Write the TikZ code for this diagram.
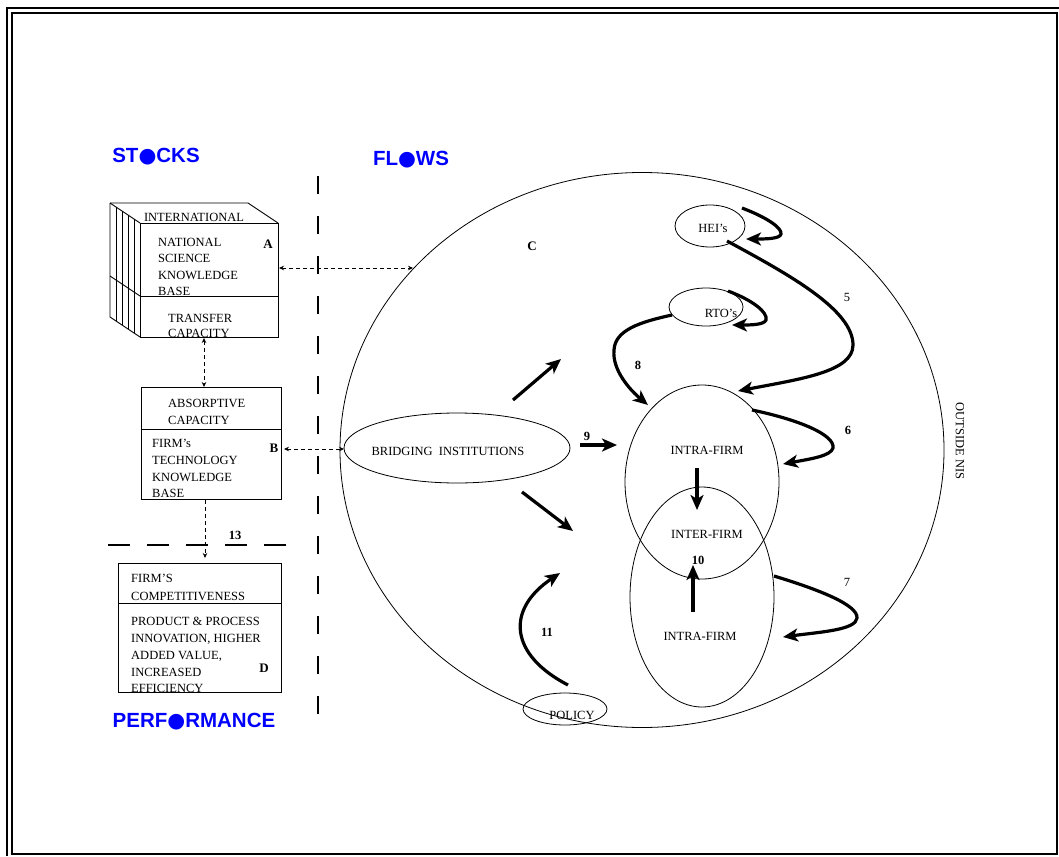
\documentclass[tikz,border=0pt]{standalone}
\usepackage{fontspec}
\setmainfont{Liberation Serif}
\newfontfamily\titlefont{Liberation Sans}
\newfontfamily\symfont{DejaVu Sans}
\usetikzlibrary{arrows.meta,shapes.geometric}
\tikzset{
  txt/.style={inner sep=0pt, text height=8.5pt, text depth=0pt, anchor=west, font=\fontsize{12.5}{15}\selectfont},
  ctxt/.style={txt, anchor=center},
  lbl/.style={ctxt, font=\fontsize{13}{15}\selectfont\bfseries},
  num/.style={ctxt, font=\fontsize{12.5}{15}\selectfont\bfseries},
  numn/.style={ctxt, font=\fontsize{12.5}{15}\selectfont},
  title/.style={inner sep=0pt, text=blue, font=\fontsize{20.5}{22}\titlefont\bfseries},
  oval/.style={draw, ellipse, inner sep=0pt, line width=0.8pt},
  boxline/.style={line width=0.9pt},
  thickarrow/.style={line width=3.2pt, -{Stealth[length=15pt,width=13pt,inset=4pt]}},
  dasharrow/.style={line width=0.8pt, dash pattern=on 4pt off 3pt, {Stealth[length=5pt,width=4.5pt]}-{Stealth[length=5pt,width=4.5pt]}},
  dasharrowone/.style={line width=0.8pt, dash pattern=on 4pt off 3pt, -{Stealth[length=5pt,width=4.5pt]}},
}
\begin{document}
\begin{tikzpicture}[x=1pt,y=-1pt]
\useasboundingbox (0,0) rectangle (1059,856);
% frame
\draw[line width=2pt] (12,13) rectangle (1057,854);
\draw[line width=2pt] (7,856) -- (7,8) -- (1059,8);

% titles
\node[title] (stocks) at (156,157) {ST{\symfont ●}CKS};
\node[title] (flows) at (411,160) {FL{\symfont ●}WS};
\node[title] (perf) at (194,722) {PERF{\symfont ●}RMANCE};

% dashed separators
\draw[line width=1.3pt, dash pattern=on 18pt off 22pt] (318,176) -- (318,722);
\draw[line width=1.3pt, dash pattern=on 22pt off 17pt] (108,545) -- (296,545);

% box A (3D)
\draw[boxline] (140,223) rectangle (278,337);
\draw[boxline] (140,296) -- (278,296);
\draw[boxline] (110,203) -- (248,203) -- (278,223);
\draw[boxline] (110,203) -- (140,223);
\draw[boxline] (110,203) -- (110,317) -- (140,337);
\draw[boxline] (110,276) -- (140,296);
\foreach \xx in {116,122,128,134} {
  \draw[line width=0.7pt] (\xx,{203+(\xx-110)*2/3}) -- (\xx,{317+(\xx-110)*2/3});
}
\node[ctxt] (intl) at (194,217) {INTERNATIONAL};
\node[txt] (a1) at (158,242) {NATIONAL};
\node[txt] (a2) at (158,258) {SCIENCE};
\node[txt] (a3) at (158,275) {KNOWLEDGE};
\node[txt] (a4) at (158,291) {BASE};
\node[lbl] (A) at (268,244) {A};
\node[txt] (a5) at (168,318) {TRANSFER};
\node[txt] (a6) at (168,333) {CAPACITY};
\coordinate (Aright) at (279,268);
\coordinate (Abottom) at (204,338);

% box B
\draw[boxline] (141,387) rectangle (281,499);
\draw[boxline] (141,429) -- (281,429);
\node[txt] (b1) at (168,403) {ABSORPTIVE};
\node[txt] (b2) at (168,420) {CAPACITY};
\node[txt] (b3) at (152,443) {FIRM's};
\node[txt] (b4) at (152,460) {TECHNOLOGY};
\node[txt] (b5) at (152,477) {KNOWLEDGE};
\node[txt] (b6) at (152,493) {BASE};
\node[lbl] (B) at (274,448) {B};
\coordinate (Btop) at (204,387);
\coordinate (Bright) at (284,449);
\coordinate (Bbottom) at (205,500);

% box D
\draw[boxline] (118,563) rectangle (281,692);
\draw[boxline] (118,603) -- (281,603);
\node[txt] (d1) at (131,578) {FIRM'S};
\node[txt] (d2) at (131,596) {COMPETITIVENESS};
\node[txt] (d3) at (131,621) {PRODUCT \& PROCESS};
\node[txt] (d4) at (131,638) {INNOVATION, HIGHER};
\node[txt] (d5) at (131,655) {ADDED VALUE,};
\node[txt] (d6) at (131,672) {INCREASED};
\node[txt] (d7) at (131,688) {EFFICIENCY};
\node[lbl] (D) at (264,668) {D};
\coordinate (Dtop) at (205,558);
\node[num] (n13) at (235,535) {13};

% big circle C
\node[oval, minimum width=604pt, minimum height=555pt] (C) at (642,450) {};
\node[lbl] (Clbl) at (532,246) {C};
\coordinate (Cleft) at (413,268);

% ovals inside
\node[oval, minimum width=70pt, minimum height=42pt] (hei) at (710,226) {};
\node[ctxt] at (713,228) {HEI's};
\node[oval, minimum width=74pt, minimum height=38pt] (rto) at (706,307) {};
\node[ctxt] at (721,313) {RTO's};
\node[oval, minimum width=154pt, minimum height=194pt] (intra1) at (702,482) {};
\node[oval, minimum width=144pt, minimum height=220pt] (intra2) at (702,597) {};
\node[ctxt] at (707,450) {INTRA-FIRM};
\node[ctxt] at (707,534) {INTER-FIRM};
\node[ctxt] at (700,636) {INTRA-FIRM};
\node[num] (n10) at (698,560) {10};
\node[oval, minimum width=226pt, minimum height=70pt] (bridge) at (457,448) {};
\node[ctxt] at (448,451) {BRIDGING\ \ INSTITUTIONS};
\node[oval, minimum width=84pt, minimum height=32pt] (policy) at (565,709) {};
\node[ctxt] at (572,715) {POLICY};
\coordinate (bridgeleft) at (344,449);

\node[ctxt, rotate=-90] (outside) at (960,441) {OUTSIDE NIS};

% dashed arrows
\draw[dasharrow] (Aright) -- (Cleft);
\draw[dasharrow] (Abottom) -- (Btop);
\draw[dasharrow] (Bright) -- (bridgeleft);
\draw[dasharrowone] (Bbottom) -- (Dtop);

% thick arrows
\draw[thickarrow] (742,208) .. controls (768,218) and (782,228) .. (781,234) .. controls (780,239) and (765,239) .. (746,239);
\draw[thickarrow] (728,291) .. controls (752,300) and (768,312) .. (766,320) .. controls (764,325) and (750,325) .. (732,325);
\draw[thickarrow] (727,241) .. controls (790,275) and (853,310) .. (853,345) .. controls (853,372) and (800,379) .. (738,391);
\node[numn] (n5) at (847,297) {5};
\draw[thickarrow] (672,315) .. controls (640,322) and (615,330) .. (614,350) .. controls (612,370) and (630,390) .. (648,405);
\node[num] (n8) at (638,365) {8};
\draw[thickarrow] (752,410) .. controls (800,420) and (835,435) .. (833,448) .. controls (831,456) and (810,459) .. (783,464);
\node[num] (n6) at (848,430) {6};
\draw[thickarrow] (774,576) .. controls (820,590) and (858,605) .. (857,618) .. controls (856,630) and (820,632) .. (783,637);
\node[numn] (n7) at (847,582) {7};
\draw[thickarrow] (697,468) -- (697,510);
\draw[thickarrow] (693,612) -- (693,565);
\draw[thickarrow] (580,445) -- (617,445);
\node[num] (n9) at (587,436) {9};
\draw[thickarrow] (513,400) -- (561,359);
\draw[thickarrow] (522,492) -- (573,531);
\draw[thickarrow] (568,685) .. controls (510,655) and (505,610) .. (560,573);
\node[num] (n11) at (547,632) {11};
\end{tikzpicture}
\end{document}
